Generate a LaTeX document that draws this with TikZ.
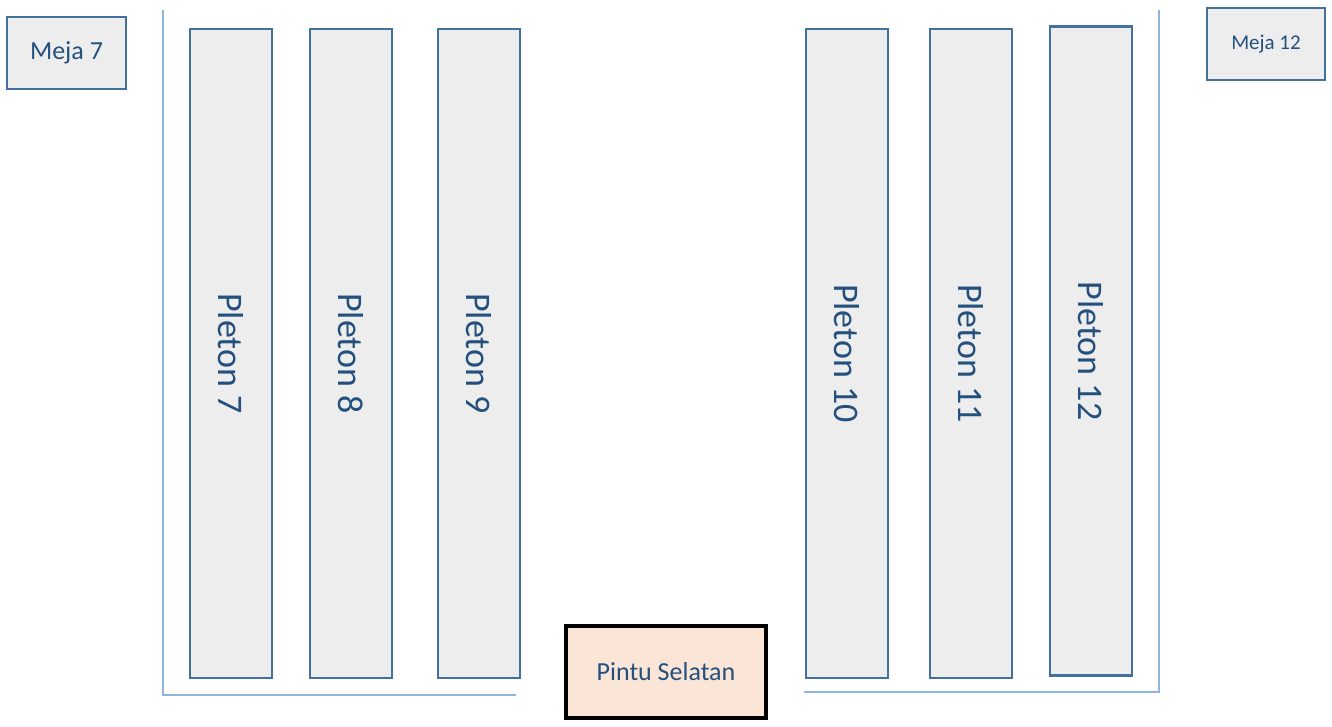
\documentclass[tikz,border=0pt]{standalone}
\usepackage{fontspec}
\setmainfont{Carlito}
\usetikzlibrary{positioning}

\definecolor{boxline}{HTML}{41719C}
\definecolor{boxfill}{HTML}{EDEDED}
\definecolor{boxtext}{HTML}{24507E}
\definecolor{wall}{HTML}{8EB4E3}
\definecolor{doorfill}{HTML}{FBE5D6}

\tikzset{
	pleton/.style={draw=boxline, fill=boxfill, line width=2.8pt, rotate=-90,
		minimum width=649pt, minimum height=82pt, inner sep=0pt,
		text=boxtext, font=\fontsize{36}{40}\selectfont},
	meja/.style={draw=boxline, fill=boxfill, line width=2.8pt,
		minimum height=72pt, inner sep=0pt, text=boxtext},
	wallline/.style={draw=wall, line width=2.2pt},
}

\begin{document}
\begin{tikzpicture}[x=1pt, y=-1pt]
			%%%%% START %%%%%
			\useasboundingbox (0, 0) rectangle (1332, 726);
			
			% dinding
			\coordinate (lt) at (163, 10);
			\coordinate (lb) at (163, 695);
			\coordinate (le) at (516, 695);
			\coordinate (rt) at (1159, 10);
			\coordinate (rb) at (1159, 692);
			\coordinate (re) at (804, 692);
			\draw[wallline] (lt) -- (lb) -- (le);
			\draw[wallline] (re) -- (rb) -- (rt);
			
			% meja
			\node[meja, minimum width=119pt, font=\fontsize{26}{30}\selectfont] (meja7) at (66.5, 53) {Meja 7};
			\node[meja, minimum width=118pt, font=\fontsize{21}{25}\selectfont] (meja12) at (1266, 44) {Meja 12};
			
			% pleton
			\foreach \n/\x/\y in {7/231/353.5, 8/351/353.5, 9/479/353.5, 10/847/353.5, 11/971/353.5, 12/1091/351}
			{
				\node[pleton] (pleton\n) at (\x, \y) {Pleton \n};
			}
			
			% pintu
			\node[draw=black, fill=doorfill, line width=3.2pt, minimum width=200pt, minimum height=92pt,
				inner sep=0pt, text=boxtext, font=\fontsize{26}{30}\selectfont] (pintu) at (666, 672) {Pintu Selatan};
			
			%%%%% END %%%%%
		\end{tikzpicture}
\end{document}
